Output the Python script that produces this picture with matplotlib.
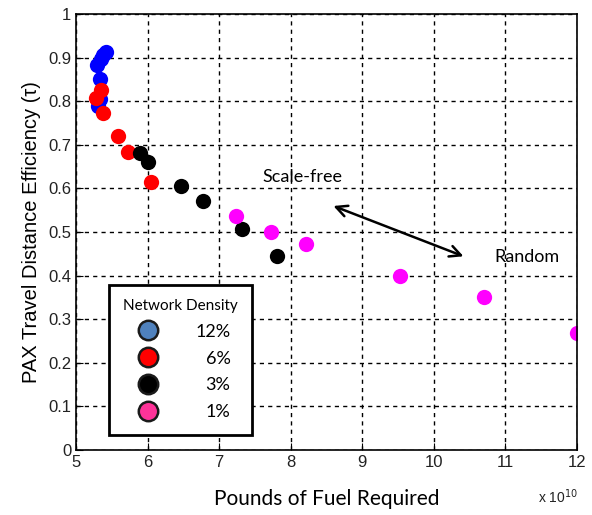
import numpy as np
import matplotlib.pyplot as plt
from matplotlib.lines import Line2D

# fuel in units of 1e10 pounds, efficiency tau
blue_x = [5.42, 5.38, 5.35, 5.30, 5.33, 5.31, 5.33]
blue_y = [0.914, 0.905, 0.896, 0.882, 0.851, 0.789, 0.805]
red_x = [5.35, 5.28, 5.38, 5.59, 5.72, 6.05]
red_y = [0.826, 0.808, 0.774, 0.721, 0.684, 0.615]
black_x = [5.90, 6.00, 6.46, 6.77, 7.32, 7.81]
black_y = [0.682, 0.661, 0.606, 0.572, 0.508, 0.445]
pink_x = [7.23, 7.72, 8.21, 9.52, 10.70, 12.0]
pink_y = [0.537, 0.500, 0.472, 0.399, 0.352, 0.269]

densities = ['12%', '6%', '3%', '1%']

fig = plt.figure(figsize=(5.92, 5.15), dpi=100)
ax = fig.add_axes([0.1284, 0.1262, 0.8463, 0.8466])

ms = 11
ax.plot(blue_x, blue_y, 'o', color='#0000ff', ms=ms, mec='none')
ax.plot(red_x, red_y, 'o', color='#ff0000', ms=ms, mec='none')
ax.plot(black_x, black_y, 'o', color='black', ms=ms, mec='none')
ax.plot(pink_x, pink_y, 'o', color='#ff00ff', ms=ms, mec='none')

ax.set_xlim(5, 12)
ax.set_ylim(0, 1)
ax.set_xticks(range(5, 13))
ax.set_yticks(np.arange(0, 1.01, 0.1))
ax.set_xticklabels([str(i) for i in range(5, 13)])
ax.set_yticklabels(['0'] + ['%.1f' % v for v in np.arange(0.1, 0.95, 0.1)] + ['1'])
ax.tick_params(direction='in', labelsize=12, labelcolor='#222222', length=5)
ax.grid(True, color='black', linestyle=(0, (3, 3)), linewidth=1)
for s in ax.spines.values():
    s.set_linewidth(1.2)
for lab in ax.get_xticklabels() + ax.get_yticklabels():
    lab.set_family('Liberation Sans')

ax.set_xlabel('Pounds of Fuel Required', fontsize=15, family='Lato', labelpad=14)
ax.set_ylabel('PAX Travel Distance Efficiency (τ)', fontsize=14.5,
              family='Liberation Sans', labelpad=5)
fig.text(0.908, 0.024, r'x 10$^{10}$', fontsize=10, family='Liberation Sans',
         color='#222222')

ax.text(8.16, 0.627, 'Scale-free', fontsize=13, family='Lato', ha='center', va='center')
ax.text(11.3, 0.443, 'Random', fontsize=13, family='Lato', ha='center', va='center')
ax.annotate('', xy=(8.56, 0.562), xytext=(10.45, 0.442),
            arrowprops=dict(arrowstyle='<->,head_length=0.8,head_width=0.4',
                            color='black', lw=1.8))

face = ['#4f81bd', '#ff0000', '#000000', '#ff3399']
handles = [Line2D([], [], marker='o', linestyle='none', ms=14, mfc=c,
                  mec='#1a1a1a', mew=1.8) for c in face]
leg = ax.legend(handles, densities, title='Network Density', loc='lower left',
                bbox_to_anchor=(0.065, 0.035), frameon=True, fancybox=False,
                prop={'family': 'Lato', 'size': 13}, labelspacing=0.6,
                handletextpad=1.6, borderpad=0.8, borderaxespad=0)
leg.get_title().set_fontfamily('Lato')
leg.get_title().set_fontsize(11)
leg.get_frame().set_edgecolor('black')
leg.get_frame().set_linewidth(2)
leg.get_frame().set_alpha(1)

# right-align the percentages in a column, like the original
fig.canvas.draw()
texts = leg.get_texts()
right = max(t.get_window_extent().x1 for t in texts)
for t in texts:
    w = t.get_window_extent().x1
    t.set_position((right - w, 0))

fig.savefig('out.png', dpi=100)
